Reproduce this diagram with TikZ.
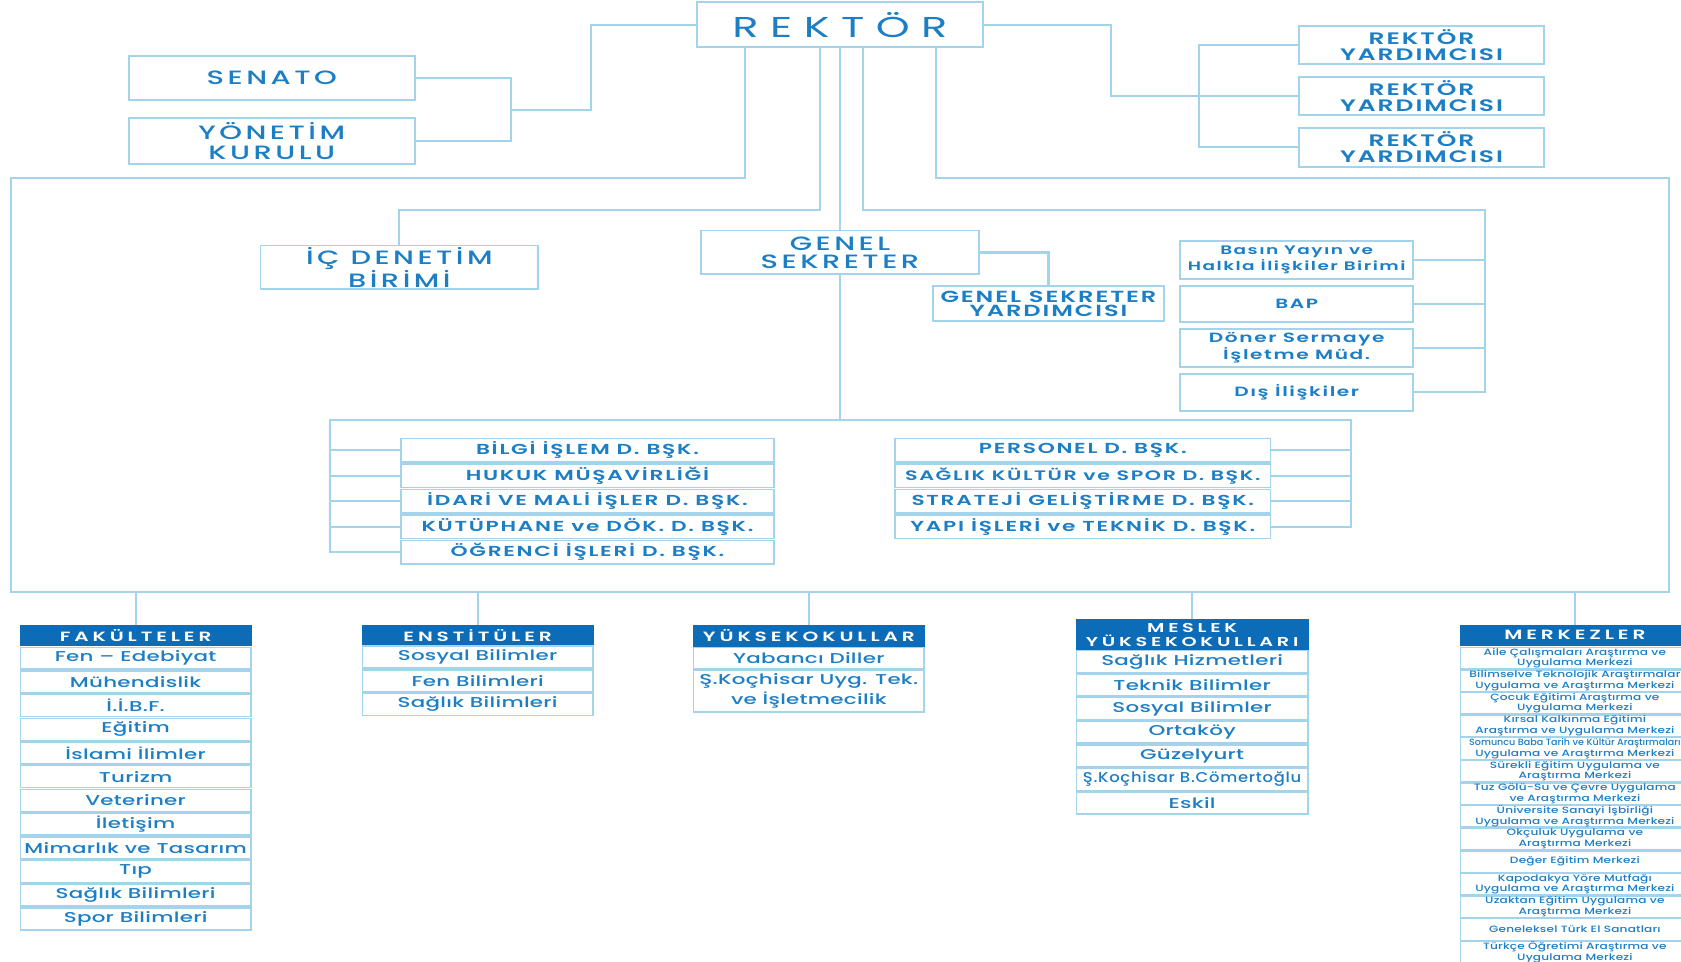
\documentclass[tikz,border=0pt]{standalone}
\usepackage{fontspec}
\setmainfont{Poppins}
\usetikzlibrary{calc}
\definecolor{lineblue}{RGB}{164,211,236}
\definecolor{txtblue}{RGB}{28,126,196}
\definecolor{hdrblue}{RGB}{12,108,184}
\newfontfamily\fRek[FakeStretch=1.5,LetterSpace=40]{Poppins}
\newfontfamily\fTop[FakeStretch=1.5,LetterSpace=18]{Poppins Medium}
\newfontfamily\fUnit[FakeStretch=1.5,LetterSpace=12]{Poppins SemiBold}
\newfontfamily\fItem[FakeStretch=1.5,LetterSpace=2]{Poppins Medium}
\newfontfamily\fItemN[FakeStretch=1.15,LetterSpace=5]{Poppins Medium}
\newfontfamily\fHdr[FakeStretch=1.5,LetterSpace=29]{Poppins SemiBold}
\newfontfamily\fSmall[FakeStretch=1.33,LetterSpace=2]{Poppins Medium}
\newfontfamily\fTiny[FakeStretch=1.05]{Poppins Medium}
\begin{document}
\begin{tikzpicture}[x=1pt,y=-1pt,
  conn/.style={draw=lineblue, line width=2pt},
  bx/.style={draw=lineblue, line width=1.8pt, fill=white, text=txtblue, inner sep=0pt, align=center},
  sz/.style 2 args={minimum width=#1pt, minimum height=#2pt},
  hdr/.style={fill=hdrblue, draw=hdrblue, text=white, inner sep=0pt, align=center, font=\fHdr\fontsize{12.5}{13}\selectfont},
  item/.style={bx, line width=1.4pt, font=\fItem\fontsize{13.3}{18}\selectfont},
  mitem/.style={bx, line width=1.2pt, font=\fSmall\fontsize{8.5}{9.8}\selectfont},
  dir/.style={bx, line width=1.5pt, font=\fUnit\fontsize{13.5}{15}\selectfont},
  unit/.style={bx, font=\fUnit\fontsize{12.5}{13}\selectfont},
  topb/.style={bx, font=\fTop\fontsize{18}{17}\selectfont}
]
\useasboundingbox[fill=white] (0,0) rectangle (1568,897);

% helper coordinates
\coordinate (h166) at (0,166);
\coordinate (h196) at (0,196);
\coordinate (h392) at (0,392);
\coordinate (hbus) at (0,552);
\coordinate (x10) at (10,0);
\coordinate (x1557) at (1557,0);
\coordinate (x477) at (477,0);
\coordinate (x551) at (551,0);
\coordinate (x1036) at (1036,0);
\coordinate (x1118) at (1118,0);
\coordinate (x1385) at (1385,0);
\coordinate (x308) at (308,0);
\coordinate (x1260) at (1260,0);

% ---------------- top
\node[bx, sz={267}{42}, font=\fRek\fontsize{26.8}{28}\selectfont] (rektor) at (783.5,23) {REKTÖR};
\node[topb, sz={267}{41}] (senato) at (253.5,72.5) {SENATO};
\node[topb, sz={267}{43}, font=\fTop\fontsize{18}{18}\selectfont] (yk) at (253.5,131.5) {YÖNETİM\\KURULU};
\node[unit, sz={228}{36}, font=\fUnit\fontsize{15.5}{15}\selectfont] (ry1) at (1326,42) {REKTÖR\\YARDIMCISI};
\node[unit, sz={228}{36}, font=\fUnit\fontsize{15.5}{15}\selectfont] (ry2) at (1326,89.5) {REKTÖR\\YARDIMCISI};
\node[unit, sz={228}{37}, font=\fUnit\fontsize{15.5}{15}\selectfont] (ry3) at (1326,137.5) {REKTÖR\\YARDIMCISI};

\node[topb, sz={259}{41}] (icd) at (372.5,249.5) {İÇ DENETİM\\BİRİMİ};
\node[topb, sz={259}{41}] (gs) at (783.5,235.5) {GENEL\\SEKRETER};
\node[unit, sz={216}{32}, font=\fUnit\fontsize{15}{13}\selectfont] (gsy) at (978,283) {GENEL SEKRETER\\YARDIMCISI};

\node[unit, sz={217}{35}, font=\fUnit\fontsize{11.5}{13}\selectfont] (basin) at (1209.5,242.5) {Basın Yayın ve\\Halkla İlişkiler Birimi};
\node[unit, sz={217}{33}] (bap) at (1209.5,283.5) {BAP};
\node[unit, sz={217}{35}] (doner) at (1209.5,324.5) {Döner Sermaye\\İşletme Müd.};
\node[unit, sz={217}{34}] (dis) at (1209.5,366) {Dış İlişkiler};

% directorates
\foreach \t [count=\i] in {BİLGİ İŞLEM D. BŞK., HUKUK MÜŞAVİRLİĞİ, İDARİ VE MALİ İŞLER D. BŞK., KÜTÜPHANE ve DÖK. D. BŞK., ÖĞRENCİ İŞLERİ D. BŞK.}
  \node[dir, sz={348}{22}] (ld\i) at (548,{420+(\i-1)*23.75}) {\t};
\foreach \t [count=\i] in {PERSONEL D. BŞK., {\fontsize{12.8}{15}\selectfont SAĞLIK KÜLTÜR ve SPOR D. BŞK.}, STRATEJİ GELİŞTİRME D. BŞK., YAPI İŞLERİ ve TEKNİK D. BŞK.}
  \node[dir, sz={350}{22}] (rd\i) at (1010,{420+(\i-1)*23.75}) {\t};

% ---------------- bottom groups
\node[hdr, sz={215}{19}] (fak) at (126.5,592.5) {FAKÜLTELER};
\foreach \t [count=\i] in {Fen – Edebiyat, Mühendislik, İ.İ.B.F., Eğitim, İslami İlimler, Turizm, Veteriner, İletişim, Mimarlık ve Tasarım, Tıp, Sağlık Bilimleri, Spor Bilimleri}
  \node[item, sz={215}{20.5}] (fak\i) at (126.5,{614+(\i-1)*22.1}) {\t};

\node[hdr, sz={215}{19}] (ens) at (445.5,592.5) {ENSTİTÜLER};
\foreach \t [count=\i] in {Sosyal Bilimler, Fen Bilimleri, Sağlık Bilimleri}
  \node[item, sz={215}{20.5}] (ens\i) at (445.5,{613+(\i-1)*22}) {\t};

\node[hdr, sz={215}{20}] (yo) at (754.5,593) {YÜKSEKOKULLAR};
\node[item, sz={215}{20.5}] (yo1) at (754.5,614) {Yabancı Diller};
\node[item, sz={215}{39}] (yo2) at (754.5,644.5) {Ş.Koçhisar Uyg. Tek.\\ve İşletmecilik};

\node[hdr, sz={216}{28}, font=\fHdr\fontsize{12}{13}\selectfont] (myo) at (1112,592) {MESLEK\\YÜKSEKOKULLARI};
\foreach \t [count=\i] in {Sağlık Hizmetleri, Teknik Bilimler, Sosyal Bilimler, Ortaköy, Güzelyurt, {\fItemN Ş.Koçhisar B.Cömertoğlu}, Eskil}
  \node[item, sz={216}{20.5}] (myo\i) at (1112,{617+(\i-1)*22}) {\t};

\node[hdr, sz={214}{19}] (mrk) at (1469,592.5) {MERKEZLER};
\foreach \t [count=\i] in {
  {Aile Çalışmaları Araştırma ve\\Uygulama Merkezi},
  {Bilimselve Teknolojik Araştırmalar\\Uygulama ve Araştırma Merkezi},
  {Çocuk Eğitimi Araştırma ve\\Uygulama Merkezi},
  {Kırsal Kalkınma Eğitimi\\Araştırma ve Uygulama Merkezi},
  {\fTiny\fontsize{8.5}{9.6}\selectfont Somuncu Baba Tarih ve Kültür Araştırmaları\\Uygulama ve Araştırma Merkezi},
  {Sürekli Eğitim Uygulama ve\\Araştırma Merkezi},
  {Tuz Gölü-Su ve Çevre Uygulama\\ve Araştırma Merkezi},
  {Üniversite Sanayi İşbirliği\\Uygulama ve Araştırma Merkezi},
  {Okçuluk Uygulama ve\\Araştırma Merkezi},
  {Değer Eğitim Merkezi},
  {Kapodakya Yöre Mutfağı\\Uygulama ve Araştırma Merkezi},
  {Uzaktan Eğitim Uygulama ve\\Araştırma Merkezi},
  {Geneleksel Türk El Sanatları},
  {Türkçe Öğretimi Araştırma ve\\Uygulama Merkezi}}
  \node[mitem, sz={214}{20}] (mrk\i) at (1469,{613.8+(\i-1)*21.1}) {\t};

% ---------------- connectors
% senato / yonetim kurulu to rektor
\draw[conn] (senato.east) -| (x477 |- yk.east) -- (yk.east);
\coordinate (sy) at (477,103);
\draw[conn] (sy) -| (x551 |- rektor.west) -- (rektor.west);
% rektor yardimcilari
\draw[conn] (rektor.east) -| (x1036 |- ry2.west) -- (ry2.west);
\draw[conn] (ry1.west) -| (x1118 |- ry3.west) -- (ry3.west);
% outer loop to the bottom bus
\draw[conn] ([xshift=-88.5pt]rektor.south) |- (x10 |- h166) -- (x10 |- hbus) -- (x1557 |- hbus) -- (x1557 |- h166) -| ([xshift=89.5pt]rektor.south);
% ic denetim
\draw[conn] ([xshift=-18.5pt]rektor.south) |- (icd.north |- h196) -- (icd.north);
% genel sekreter
\draw[conn] (rektor.south) -- (gs.north);
\draw[conn] (gs.east) -| (gsy.north);
% right group
\draw[conn] ([xshift=21.5pt]rektor.south) |- (x1385 |- h196) -- (x1385 |- dis.east) -- (dis.east);
\foreach \n in {basin,bap,doner} \draw[conn] (\n.east) -- (\n.east -| x1385);
% directorates
\draw[conn] (gs.south) -- (gs.south |- h392);
\draw[conn] (ld5.west) -| (x308 |- h392) -- (x1260 |- h392) |- (rd4.east);
\foreach \i in {1,...,4} \draw[conn] (ld\i.west) -- (ld\i.west -| x308);
\foreach \i in {1,...,3} \draw[conn] (rd\i.east) -- (rd\i.east -| x1260);
% bottom drops
\foreach \n in {fak,ens,yo,myo,mrk} \draw[conn] (\n.north) -- (\n.north |- hbus);
\end{tikzpicture}
\end{document}
